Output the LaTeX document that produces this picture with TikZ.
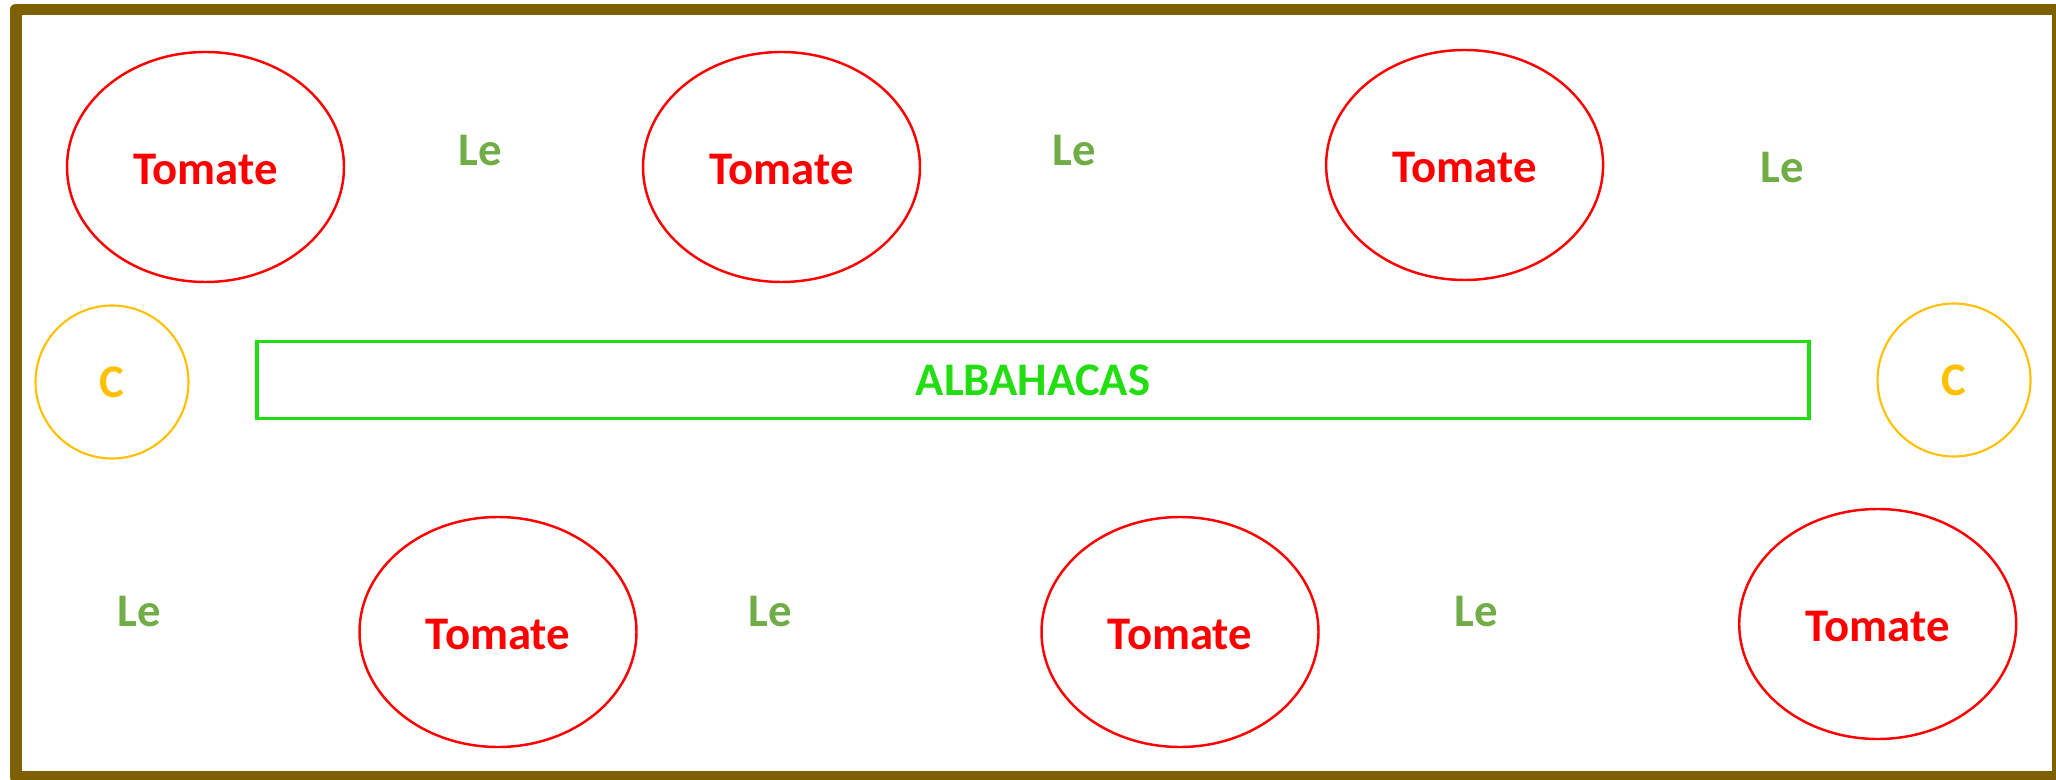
\documentclass[tikz,border=0pt]{standalone}
\usepackage{fontspec}
\setmainfont{Carlito}
\usetikzlibrary{shapes.geometric}

\definecolor{bedbrown}{HTML}{7F6000}
\definecolor{tomred}{HTML}{FF0000}
\definecolor{legreen}{HTML}{70AD47}
\definecolor{cgold}{HTML}{FFC000}
\definecolor{albgreen}{HTML}{22DD11}

\tikzset{
	plantfont/.style = {font=\fontsize{13.3}{16}\selectfont\bfseries},
	tomato/.style = {ellipse, draw=tomred, line width=0.7pt, text=tomred, plantfont,
		text height=0.35cm, text depth=0pt,
		minimum width=2.77cm, minimum height=2.3cm, inner sep=0pt},
	lettuce/.style = {text=legreen, plantfont, inner sep=0pt},
	ccircle/.style = {circle, draw=cgold, line width=0.6pt, text=cgold, plantfont,
		minimum size=1.53cm, inner sep=0pt},
	basilrow/.style = {rectangle, draw=albgreen, line width=1.1pt, text=albgreen, plantfont,
		minimum width=15.52cm, minimum height=0.77cm, inner sep=0pt}
}

\begin{document}
\begin{tikzpicture}
	\useasboundingbox (0,0) rectangle (20.56,7.79);
	% bed
	\draw[bedbrown, line width=3.4pt, line join=round] (0.16,0.02) rectangle (20.58,7.695);
	% top row
	\node[tomato] (tomA) at (2.055,6.12) {Tomate};
	\node[tomato] (tomB) at (7.815,6.12) {Tomate};
	\node[tomato] (tomC) at (14.646,6.14) {Tomate};
	\node[lettuce] (leA) at (4.80,6.28) {Le};
	\node[lettuce] (leB) at (10.74,6.28) {Le};
	\node[lettuce] (leC) at (17.82,6.11) {Le};
	% middle row
	\node[ccircle] (cLeft) at (1.12,3.97) {C};
	\node[basilrow] (albahacas) at (10.33,3.99) {ALBAHACAS};
	\node[ccircle] (cRight) at (19.54,3.99) {C};
	% bottom row
	\node[lettuce] (leD) at (1.39,1.67) {Le};
	\node[lettuce] (leE) at (7.70,1.67) {Le};
	\node[lettuce] (leF) at (14.76,1.67) {Le};
	\node[tomato] (tomD) at (4.98,1.47) {Tomate};
	\node[tomato] (tomE) at (11.80,1.47) {Tomate};
	\node[tomato] (tomF) at (18.777,1.55) {Tomate};
\end{tikzpicture}
\end{document}
